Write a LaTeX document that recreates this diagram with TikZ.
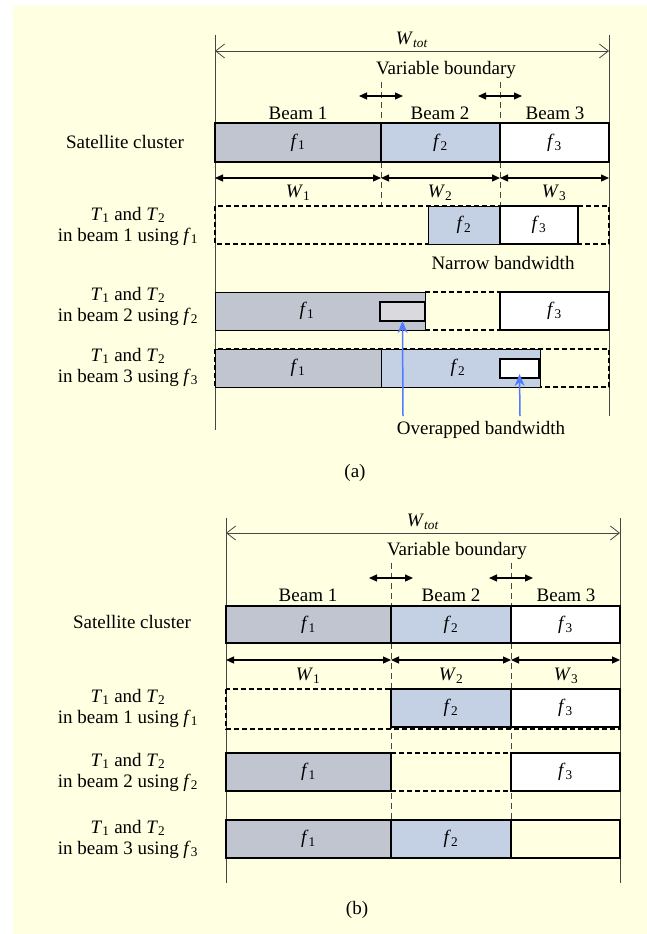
\documentclass[tikz,border=0pt]{standalone}
\usepackage{fontspec}
\setmainfont{Liberation Serif}
\usetikzlibrary{arrows.meta}

\definecolor{paper}{RGB}{255,255,225}
\definecolor{fone}{RGB}{192,197,208}
\definecolor{ftwo}{RGB}{196,208,228}
\definecolor{fover}{RGB}{218,218,222}
\definecolor{ptrblue}{RGB}{80,122,255}
\definecolor{guidegray}{RGB}{70,70,70}

\newcommand{\ff}[1]{\textit{f}\textsubscript{#1}}
\newcommand{\ww}[1]{\textit{W}\textsubscript{#1}}
\newcommand{\rowtext}[1]{\textit{T}\textsubscript{1} and \textit{T}\textsubscript{2}\\in beam #1 using \ff{#1}}

\tikzset{
  cell/.style={draw, line width=1.2pt, inner sep=0pt, outer sep=0pt, anchor=north west},
  thincell/.style={cell, line width=0.8pt},
  gap/.style={line width=1.5pt, dash pattern=on 5pt off 3pt},
  guide/.style={guidegray, line width=0.8pt},
  bound/.style={guidegray, line width=0.8pt, dash pattern=on 6pt off 4pt},
  dim/.style={line width=1.2pt, {Triangle[length=8pt,width=7pt]}-{Triangle[length=8pt,width=7pt]}},
  totspan/.style={guidegray, line width=0.8pt, {Straight Barb[length=9pt,width=14pt]}-{Straight Barb[length=9pt,width=14pt]}},
  ptr/.style={ptrblue, line width=1.5pt, -{Stealth[length=12pt,width=10pt]}},
  rowlab/.style={align=center}
}

\begin{document}
\begin{tikzpicture}[x=1pt,y=-1pt,font=\fontsize{19}{21}\selectfont]
\useasboundingbox (0,0) rectangle (647,934);
\fill[paper] (13,5) rectangle (647,934);

% (a)
\draw[guide] (215,35) -- (215,430);
\draw[guide] (609,35) -- (609,416);
\draw[totspan] (215,51) -- (609,51);
\node (wtota) at (412,40) {\textit{W}\textsubscript{\textit{tot}}};
\node (vba) at (446,70) {Variable boundary};
\draw[bound] (381,82) -- (381,206) (500,82) -- (500,206);
\draw[dim] (359,96) -- (403,96);
\draw[dim] (478,96) -- (522,96);
\node (ba1) at (298,113) {Beam 1};
\node (ba2) at (440,113) {Beam 2};
\node (ba3) at (555,113) {Beam 3};

\node (sca) at (125,142) {Satellite cluster};
\node[cell, fill=fone, minimum width=166pt, minimum height=39pt] (sa1) at (215,123) {\ff1};
\node[cell, fill=ftwo, minimum width=119pt, minimum height=39pt] (sa2) at (381,123) {\ff2};
\node[cell, fill=white, minimum width=109pt, minimum height=39pt] (sa3) at (500,123) {\ff3};

\draw[dim] (215,178) -- (381,178);
\draw[dim] (381,178) -- (500,178);
\draw[dim] (500,178) -- (609,178);
\node at (298,193) {\ww1};
\node at (440,193) {\ww2};
\node at (554,193) {\ww3};

% beam 1 row
\node[rowlab] (la1) at (128,226) {\rowtext1};
\draw[gap] (215,206) rectangle (609,244);
\node[thincell, fill=ftwo, minimum width=72pt, minimum height=38pt] (a1f2) at (428,206) {\ff2};
\node[cell, fill=white, minimum width=78pt, minimum height=38pt] (a1f3) at (500,206) {\ff3};
\node (narrow) at (503,263) {Narrow bandwidth};

% beam 2 row
\node[rowlab] (la2) at (128,306) {\rowtext2};
\draw[gap] (425,292) -- (500,292) (425,330) -- (500,330);
\node[thincell, fill=fone, minimum width=210pt, minimum height=38pt] (a2f1) at (215,292) {};
\node at (307,311) {\ff1};
\node[cell, line width=1.5pt, fill=fover, minimum width=45pt, minimum height=19pt] (a2ov) at (380,302) {};
\node[cell, fill=white, minimum width=109pt, minimum height=38pt] (a2f3) at (500,292) {\ff3};

% beam 3 row
\node[rowlab] (la3) at (128,367) {\rowtext3};
\draw[gap] (215,349) rectangle (609,387);
\node[thincell, fill=fone, minimum width=166pt, minimum height=38pt] (a3f1) at (215,349) {\ff1};
\node[thincell, fill=ftwo, minimum width=159pt, minimum height=38pt] (a3f2) at (381,349) {};
\node at (458,368) {\ff2};
\node[cell, line width=1.5pt, fill=white, minimum width=39pt, minimum height=19pt] (a3sm) at (500,359) {};

\coordinate (pa) at (403,416);
\coordinate (pb) at (520,416);
\draw[ptr] (pa) -- (a2ov.south);
\draw[ptr] (pb) -- ([yshift=4pt]a3sm.south);
\node (over) at (481,430) {Overapped bandwidth};
\node (capa) at (355,473) {(a)};

% (b)
\draw[guide] (226,518) -- (226,883);
\draw[guide] (620,518) -- (620,883);
\draw[totspan] (226,533) -- (620,533);
\node (wtotb) at (423,522) {\textit{W}\textsubscript{\textit{tot}}};
\node (vbb) at (457,551) {Variable boundary};
\draw[bound] (391,563) -- (391,820) (511,563) -- (511,820);
\draw[dim] (369,578) -- (413,578);
\draw[dim] (489,578) -- (533,578);
\node (bb1) at (308,595) {Beam 1};
\node (bb2) at (451,595) {Beam 2};
\node (bb3) at (566,595) {Beam 3};

\node (scb) at (132,622) {Satellite cluster};
\node[cell, fill=fone, minimum width=165pt, minimum height=37pt] (sb1) at (226,606) {\ff1};
\node[cell, fill=ftwo, minimum width=120pt, minimum height=37pt] (sb2) at (391,606) {\ff2};
\node[cell, fill=white, minimum width=109pt, minimum height=37pt] (sb3) at (511,606) {\ff3};

\draw[dim] (226,660) -- (391,660);
\draw[dim] (391,660) -- (511,660);
\draw[dim] (511,660) -- (620,660);
\node at (308,676) {\ww1};
\node at (451,676) {\ww2};
\node at (566,676) {\ww3};

% beam 1 row
\node[rowlab] (lb1) at (128,708) {\rowtext1};
\draw[gap] (226,689) rectangle (620,729);
\node[cell, fill=ftwo, minimum width=120pt, minimum height=38pt] (b1f2) at (391,689) {\ff2};
\node[cell, fill=white, minimum width=109pt, minimum height=38pt] (b1f3) at (511,689) {\ff3};

% beam 2 row
\node[rowlab] (lb2) at (128,772) {\rowtext2};
\draw[gap] (391,753) -- (511,753) (391,791) -- (511,791);
\node[cell, fill=fone, minimum width=165pt, minimum height=38pt] (b2f1) at (226,753) {\ff1};
\node[cell, fill=white, minimum width=109pt, minimum height=38pt] (b2f3) at (511,753) {\ff3};

% beam 3 row
\node[rowlab] (lb3) at (128,839) {\rowtext3};
\node[cell, fill=fone, minimum width=165pt, minimum height=38pt] (b3f1) at (226,820) {\ff1};
\node[cell, fill=ftwo, minimum width=120pt, minimum height=38pt] (b3f2) at (391,820) {\ff2};
\node[cell, minimum width=109pt, minimum height=38pt] (b3f3) at (511,820) {};

\node (capb) at (357,910) {(b)};
\end{tikzpicture}
\end{document}
